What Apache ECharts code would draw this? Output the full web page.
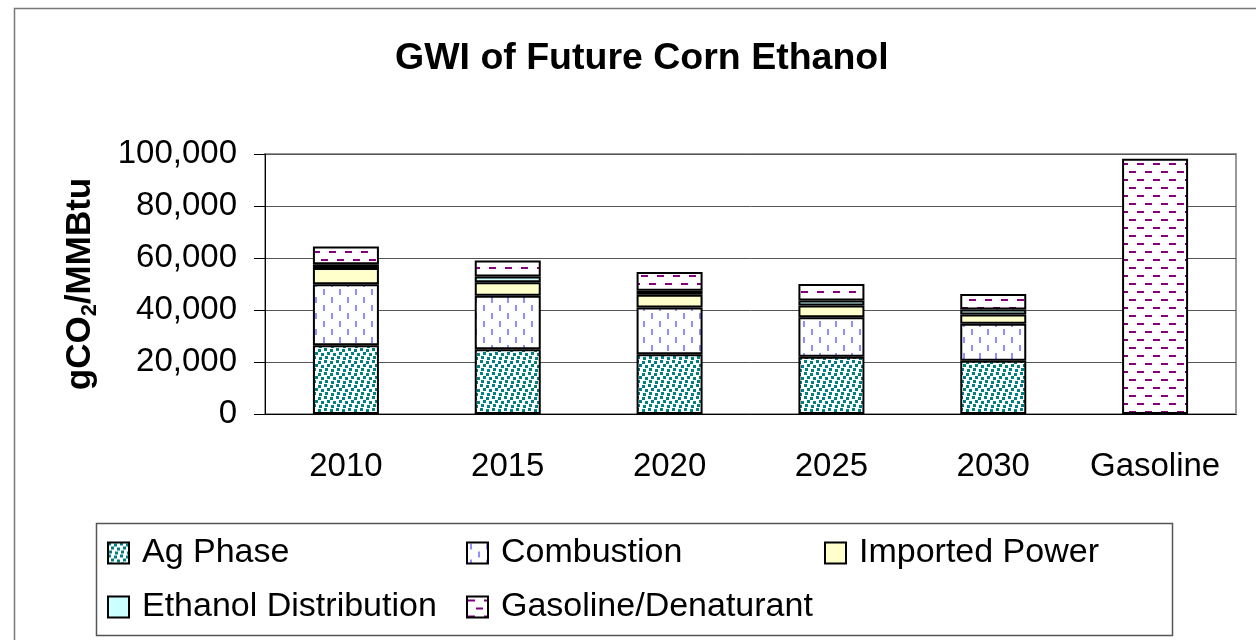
<!DOCTYPE html>
<html>
<head>
<meta charset="utf-8">
<script src="https://cdn.jsdelivr.net/npm/echarts@6/dist/echarts.min.js"></script>
<style>
  html, body { margin: 0; padding: 0; background: #fff; }
  #chart { width: 1256px; height: 640px; }
</style>
</head>
<body>
<div id="chart"></div>
<script>
// categories and stacked series (gCO2/MMBtu)
const categories = ['2010', '2015', '2020', '2025', '2030', 'Gasoline'];
const agPhase = [26400, 24900, 23000, 22000, 20500, null];
const combustion = [23500, 20600, 18000, 15200, 14200, null];
const importedPower = [6300, 5200, 4900, 4500, 3600, null];
const ethanolDistribution = [1400, 2200, 1500, 2000, 1900, null];
const gasolineDenaturant = [6800, 6100, 7200, 6300, 6000, 98200];
const yTicks = [0, 20000, 40000, 60000, 80000, 100000];

const FONT = '"Liberation Sans", Arial, sans-serif';

// fill patterns like the Excel ones
function makePattern(w, h, bg, fg, rects) {
  const c = document.createElement('canvas');
  c.width = w;
  c.height = h;
  const ctx = c.getContext('2d');
  ctx.fillStyle = bg;
  ctx.fillRect(0, 0, w, h);
  ctx.fillStyle = fg;
  rects.forEach(r => ctx.fillRect(r[0], r[1], r[2], r[3]));
  return { image: c, repeat: 'repeat' };
}

const agFill = makePattern(12, 12, '#ffffff', '#008080',
  [[0, 0, 3, 3], [6, 1, 3, 3], [3, 4, 3, 3], [9, 5, 3, 3], [1, 8, 3, 3], [7, 9, 3, 3]]);
const combFill = makePattern(16, 16, '#ffffff', '#8f8fff',
  [[3, 1, 2, 6], [11, 9, 2, 6]]);
const gasFill = makePattern(16, 16, '#ffffff', '#800080',
  [[1, 3, 7, 2], [9, 11, 7, 2]]);

const chart = echarts.init(document.getElementById('chart'));

function seriesOf(name, data, fill) {
  return {
    name: name,
    type: 'bar',
    stack: 'total',
    data: data,
    barWidth: 66,
    itemStyle: { color: fill, borderColor: '#000', borderWidth: 2 },
    emphasis: { disabled: true }
  };
}

const legendText = {
  color: '#000', fontSize: 34, fontFamily: FONT, lineHeight: 34,
  rich: { t: { color: '#000', fontSize: 34, fontFamily: FONT, lineHeight: 34, padding: [0, 0, 0, 8] } }
};

function legendOf(left, names) {
  return {
    orient: 'vertical', left: left, top: 536, padding: 0, itemGap: 20,
    itemWidth: 21, itemHeight: 21, icon: 'rect',
    data: names, textStyle: legendText,
    formatter: n => '{t|' + n + '}'
  };
}

const option = {
  animation: false,
  textStyle: { fontFamily: FONT },
  title: {
    text: 'GWI of Future Corn Ethanol',
    left: 390,
    top: 35,
    textStyle: { fontSize: 37.5, fontWeight: 'bold', color: '#000', fontFamily: FONT }
  },
  legend: [
    legendOf(107, ['Ag Phase', 'Ethanol Distribution']),
    legendOf(466, ['Combustion', 'Gasoline/Denaturant']),
    legendOf(824, ['Imported Power'])
  ],
  grid: {
    left: 265, right: 20, top: 154, bottom: 226,
    show: true, borderColor: '#999', borderWidth: 2, backgroundColor: 'transparent'
  },
  xAxis: {
    type: 'category',
    data: categories,
    axisLine: { lineStyle: { color: '#000', width: 1 } },
    axisTick: { length: 12, lineStyle: { color: '#000' } },
    axisLabel: { interval: 0, fontSize: 33, color: '#000', margin: 36, fontFamily: FONT }
  },
  yAxis: {
    type: 'value',
    min: yTicks[0],
    max: yTicks[yTicks.length - 1],
    interval: 20000,
    name: '{a|gCO}{b|2}{a|/MMBtu}',
    nameLocation: 'middle',
    nameRotate: 90,
    nameGap: 164,
    nameTextStyle: {
      rich: {
        a: { fontSize: 35, fontWeight: 'bold', color: '#000', fontFamily: FONT, lineHeight: 42, verticalAlign: 'middle' },
        b: { fontSize: 22, fontWeight: 'bold', color: '#000', fontFamily: FONT, lineHeight: 22, verticalAlign: 'bottom' }
      }
    },
    axisLine: { show: true, lineStyle: { color: '#000', width: 1 } },
    axisTick: { show: true, length: 11, lineStyle: { color: '#000' } },
    axisLabel: {
      fontSize: 33, color: '#000', margin: 28, fontFamily: FONT,
      formatter: v => v.toLocaleString('en-US')
    },
    splitLine: { lineStyle: { color: '#555', width: 1 } }
  },
  graphic: [
    {
      type: 'rect', silent: true, z: -1,
      shape: { x: 14.5, y: 8.5, width: 1300, height: 700 },
      style: { fill: 'none', stroke: '#777', lineWidth: 1.5 }
    },
    {
      type: 'rect', silent: true,
      shape: { x: 96.5, y: 523.5, width: 1076, height: 112 },
      style: { fill: 'none', stroke: '#555', lineWidth: 1.5 }
    }
  ],
  series: [
    seriesOf('Ag Phase', agPhase, agFill),
    seriesOf('Combustion', combustion, combFill),
    seriesOf('Imported Power', importedPower, '#ffffcc'),
    seriesOf('Ethanol Distribution', ethanolDistribution, '#ccffff'),
    seriesOf('Gasoline/Denaturant', gasolineDenaturant, gasFill)
  ]
};

chart.setOption(option);
</script>
</body>
</html>
